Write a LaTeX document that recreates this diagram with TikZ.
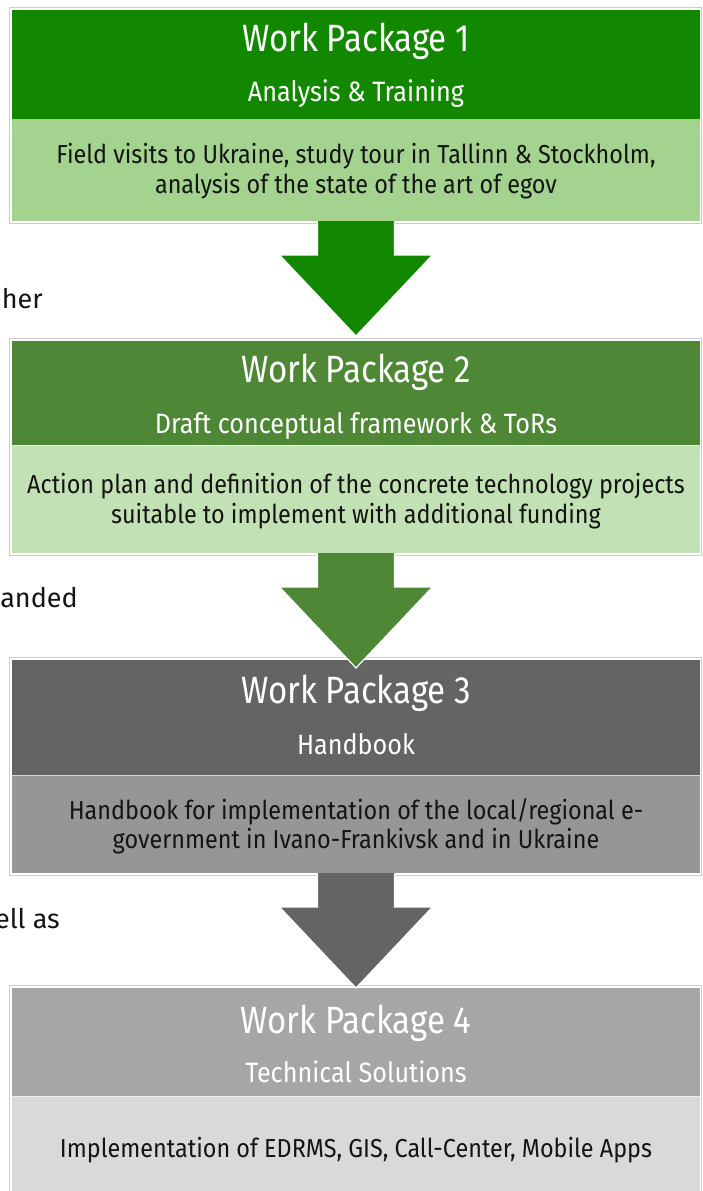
\documentclass[tikz,border=0pt]{standalone}
\usepackage{fontspec}
\setmainfont{Fira Sans}
\newfontfamily\titlefont[FakeStretch=0.87]{Fira Sans}
\newfontfamily\condfont[FakeStretch=0.9]{Fira Sans}
\usetikzlibrary{calc}
\definecolor{gAh}{RGB}{18,136,0}
\definecolor{gAb}{RGB}{163,211,142}
\definecolor{gBh}{RGB}{78,135,53}
\definecolor{gBb}{RGB}{194,225,180}
\definecolor{gCh}{RGB}{100,100,100}
\definecolor{gCb}{RGB}{150,150,150}
\definecolor{gDh}{RGB}{166,166,166}
\definecolor{gDb}{RGB}{217,217,217}
\definecolor{outl}{RGB}{205,205,205}
\definecolor{ink}{RGB}{20,20,20}
\tikzset{
  boxpart/.style={rectangle, draw=none, inner sep=0pt, outer sep=0pt, minimum width=688pt, anchor=north west},
  outlinebox/.style={draw=outl, line width=1pt},
  titletext/.style={anchor=base, inner sep=0pt, text=white, font=\titlefont\fontsize{38}{40}\selectfont},
  subtext/.style={anchor=base, inner sep=0pt, text=white, font=\condfont\fontsize{28}{30}\selectfont},
  bodytext/.style={anchor=base, inner sep=0pt, text=ink, font=\condfont\fontsize{26}{29}\selectfont},
  sidetext/.style={anchor=base east, inner sep=0pt, text=ink, font=\fontsize{27}{30}\selectfont},
  seam/.style={draw=white, draw opacity=0.6, line width=1pt},
  arrowedge/.style={draw=white, line width=1.2pt, line join=miter}
}
\newcommand\blockarrow[3]{%
  \fill[#2] ($(#1.south)+(-38.5,0)$) -- ($(#1.south)+(38.5,0)$) -- ($(#1.south)+(38.5,34)$)
    -- ($(#1.south)+(76.5,34)$) -- ($(#1.south)+(0,115)$) -- ($(#1.south)+(-76.5,34)$)
    -- ($(#1.south)+(-38.5,34)$) -- cycle;
  \draw[arrowedge] ($(#1.south)+(38.5,0.5)$) -- ($(#1.south)+(38.5,34)$)
    -- ($(#1.south)+(76.5,34)$) -- ($(#1.south)+(0,115)$) coordinate (#3) -- ($(#1.south)+(-76.5,34)$)
    -- ($(#1.south)+(-38.5,34)$) -- ($(#1.south)+(-38.5,0.5)$);
}
\begin{document}
\begin{tikzpicture}[x=1pt,y=-1pt]
\useasboundingbox (0,0) rectangle (702,1191);
\clip (0,0) rectangle (702,1191);
\fill[white] (0,0) rectangle (702,1191);

% ---------- Work Package 1
\node[boxpart, fill=gAh, minimum height=109.5pt] (h1) at (12,10) {};
\node[boxpart, fill=gAb, minimum height=101.5pt] (d1) at (h1.south west) {};
\draw[outlinebox] ($(h1.north west)+(-2.5,-2.5)$) rectangle ($(d1.south east)+(1.5,2.5)$);
\draw[seam] (h1.south west) -- (h1.south east);
\node[titletext] (t1) at (356,51) {Work Package 1};
\node[subtext] (u1) at (356,101) {Analysis \& Training};
\node[bodytext] (b1a) at (356,163) {Field visits to Ukraine, study tour in Tallinn \& Stockholm,};
\node[bodytext] (b1b) at (356,193) {analysis of the state of the art of egov};

% ---------- Work Package 2
\node[boxpart, fill=gBh, minimum height=104pt] (h2) at (12,341) {};
\node[boxpart, fill=gBb, minimum height=108pt] (d2) at (h2.south west) {};
\draw[outlinebox] ($(h2.north west)+(-2.5,-2.5)$) rectangle ($(d2.south east)+(1.5,2.5)$);
\draw[seam] (h2.south west) -- (h2.south east);
\node[titletext] (t2) at (356,382) {Work Package 2};
\node[subtext] (u2) at (356,433) {Draft conceptual framework \& ToRs};
\node[bodytext] (b2a) at (356,493) {Action plan and definition of the concrete technology projects};
\node[bodytext] (b2b) at (356,523) {suitable to implement with additional funding};

% ---------- Work Package 3
\node[boxpart, fill=gCh, minimum height=115pt] (h3) at (12,660) {};
\node[boxpart, fill=gCb, minimum height=98pt] (d3) at (h3.south west) {};
\draw[outlinebox] ($(h3.north west)+(-2.5,-2.5)$) rectangle ($(d3.south east)+(1.5,2.5)$);
\draw[seam] (h3.south west) -- (h3.south east);
\node[titletext] (t3) at (356,703) {Work Package 3};
\node[subtext] (u3) at (356,754) {Handbook};
\node[bodytext] (b3a) at (356,819) {Handbook for implementation of the local/regional e-};
\node[bodytext] (b3b) at (356,848) {government in Ivano-Frankivsk and in Ukraine};

% ---------- Work Package 4
\node[boxpart, fill=gDh, minimum height=108pt] (h4) at (12,988) {};
\node[boxpart, fill=gDb, minimum height=100pt] (d4) at (h4.south west) {};
\draw[outlinebox] ($(h4.north west)+(-2.5,-2.5)$) rectangle ($(d4.south east)+(1.5,2.5)$);
\draw[seam] (h4.south west) -- (h4.south east);
\node[titletext] (t4) at (356,1033) {Work Package 4};
\node[subtext] (u4) at (356,1082) {Technical Solutions};
\node[bodytext] (b4a) at (356,1157) {Implementation of EDRMS, GIS, Call-Center, Mobile Apps};

% ---------- block arrows
\blockarrow{d1}{gAh}{tip1}
\blockarrow{d2}{gBh}{tip2}
\blockarrow{d3}{gCh}{tip3}

% ---------- clipped text from the page behind
\node[sidetext] (s1) at (43,308) {her};
\node[sidetext] (s2) at (78,607) {anded};
\node[sidetext] (s3) at (60,928) {ell as};
\end{tikzpicture}
\end{document}
